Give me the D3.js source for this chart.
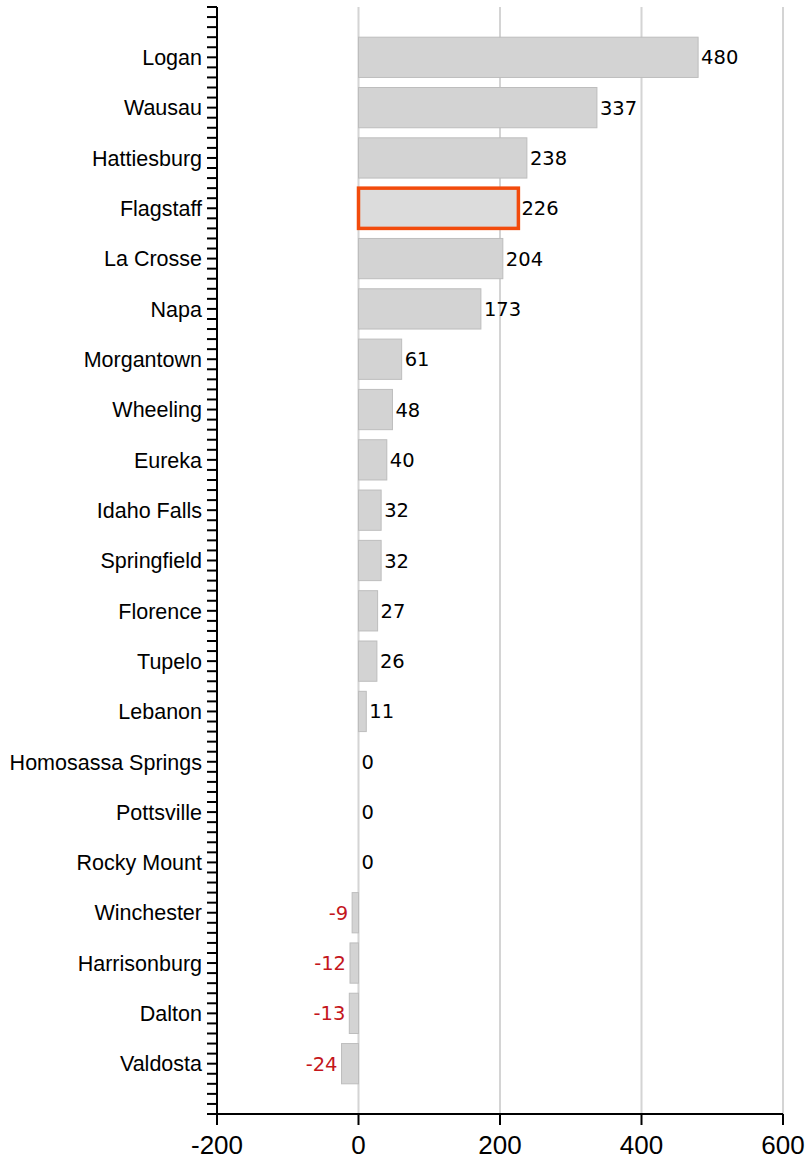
<!DOCTYPE html>
<html>
<head>
<meta charset="utf-8">
<script src="https://cdn.jsdelivr.net/npm/d3@7"></script>
<style>
  html, body { margin: 0; padding: 0; background: #fff; }
  svg { display: block; }
</style>
</head>
<body>
<svg id="chart" width="808" height="1159"></svg>
<script>
const categories = ["Logan","Wausau","Hattiesburg","Flagstaff","La Crosse","Napa","Morgantown","Wheeling","Eureka","Idaho Falls","Springfield","Florence","Tupelo","Lebanon","Homosassa Springs","Pottsville","Rocky Mount","Winchester","Harrisonburg","Dalton","Valdosta"];
const values = [480,337,238,226,204,173,61,48,40,32,32,27,26,11,0,0,0,-9,-12,-13,-24];
const highlighted = ["Flagstaff"];
const xTicks = [-200, 0, 200, 400, 600];

(function () {
const svg = d3.select("#chart");
const mLeft = 217, mRight = 783, mTop = 7, mBottom = 1114;

const x = d3.scaleLinear().domain([-200, 600]).range([mLeft, mRight]);
const y = d3.scalePoint().domain(categories).range([mTop, mBottom]).padding(1);
const step = y.step();
const barH = step * 0.8;

// gridlines
svg.append("g").selectAll("line").data(xTicks.filter(d => d !== -200)).join("line")
  .attr("x1", d => x(d)).attr("x2", d => x(d))
  .attr("y1", mTop).attr("y2", mBottom)
  .attr("stroke", "#d4d4d4").attr("stroke-width", 2);

// bars
const data = categories.map((c, i) => ({c, v: values[i]}));
svg.append("g").selectAll("rect").data(data).join("rect")
  .attr("x", d => Math.min(x(0), x(d.v)))
  .attr("y", d => y(d.c) - barH / 2)
  .attr("width", d => Math.abs(x(d.v) - x(0)))
  .attr("height", barH)
  .attr("fill", d => highlighted.includes(d.c) ? "#dcdcdc" : "#d3d3d3")
  .attr("stroke", d => highlighted.includes(d.c) ? "#f24b0c" : "#bdbdbd")
  .attr("stroke-width", d => highlighted.includes(d.c) ? 3.5 : 1);

// value labels
svg.append("g").selectAll("text").data(data).join("text")
  .attr("x", d => d.v < 0 ? x(d.v) - 4 : x(d.v) + 3)
  .attr("y", d => y(d.c))
  .attr("dy", "0.36em")
  .attr("text-anchor", d => d.v < 0 ? "end" : "start")
  .attr("fill", d => d.v < 0 ? "#c4161c" : "#000")
  .style("font-family", "'DejaVu Sans', sans-serif")
  .style("font-size", "19.5px")
  .text(d => String(d.v));

// left axis
const gy = svg.append("g");
gy.append("line").attr("x1", mLeft).attr("x2", mLeft).attr("y1", mTop).attr("y2", mBottom)
  .attr("stroke", "#000").attr("stroke-width", 2);
const nMinor = Math.round((mBottom - mTop) / (step / 5));
gy.selectAll("line.minor").data(d3.range(nMinor + 1)).join("line").attr("class", "minor")
  .attr("x1", mLeft - 10).attr("x2", mLeft)
  .attr("y1", i => mTop + i * step / 5).attr("y2", i => mTop + i * step / 5)
  .attr("stroke", "#000").attr("stroke-width", 2);
gy.selectAll("text").data(categories).join("text")
  .attr("x", mLeft - 15).attr("y", d => y(d)).attr("dy", "0.36em")
  .attr("text-anchor", "end")
  .style("font-family", "'Liberation Sans', Arial, sans-serif")
  .style("font-size", "21.5px")
  .attr("fill", "#000")
  .text(d => d);

// bottom axis
const gx = svg.append("g");
gx.append("line").attr("x1", mLeft).attr("x2", mRight).attr("y1", mBottom).attr("y2", mBottom)
  .attr("stroke", "#000").attr("stroke-width", 2);
gx.selectAll("line.t").data(xTicks).join("line").attr("class", "t")
  .attr("x1", d => x(d)).attr("x2", d => x(d)).attr("y1", mBottom).attr("y2", mBottom + 11)
  .attr("stroke", "#000").attr("stroke-width", 2);
gx.selectAll("text").data(xTicks).join("text")
  .attr("x", d => x(d)).attr("y", 1154)
  .attr("text-anchor", "middle")
  .style("font-family", "'Liberation Sans', Arial, sans-serif")
  .style("font-size", "26px")
  .attr("fill", "#000")
  .text(d => d);
})();
</script>
</body>
</html>
